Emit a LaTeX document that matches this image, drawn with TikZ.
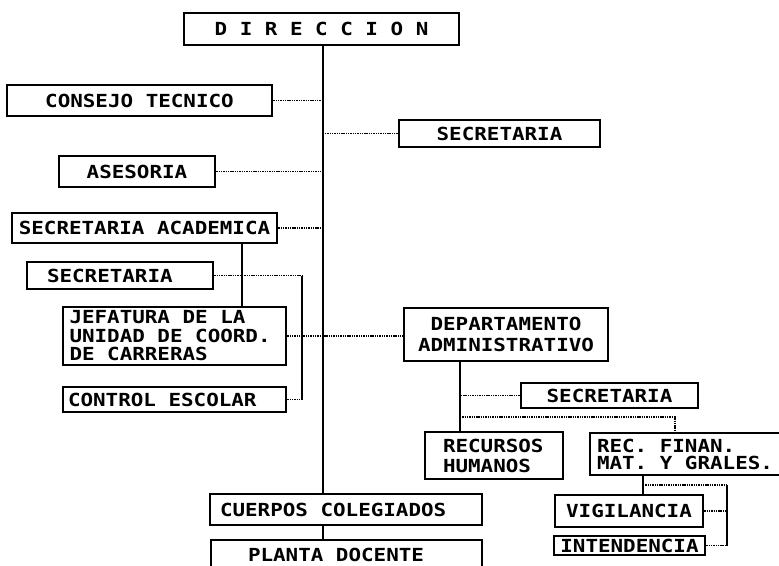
\documentclass[tikz,border=0pt]{standalone}
\usepackage{fontspec}
\newfontfamily\orgfont[FakeStretch=1.16]{DejaVu Sans Mono}
\newcommand\SP{\hskip\fontdimen2\font\relax}
\begin{document}
\begin{tikzpicture}[x=1pt,y=-1pt,
  box/.style={draw,line width=2.6pt,inner sep=0pt,align=center,
    font=\orgfont\bfseries\fontsize{18}{19}\selectfont},
  trunk/.style={line width=2.8pt},
  link/.style={line width=1.2pt,dash pattern=on 1.4pt off 0.9pt},
  rail/.style={line width=1.4pt}]
\useasboundingbox (0,0) rectangle (779,565);
\clip (0,0) rectangle (779,565);

\node[box,minimum width=275pt,minimum height=32pt] (dir) at (321.5,29) {D I R E C C I O N};
\node[box,minimum width=265pt,minimum height=31pt] (ct) at (139.5,100.5) {CONSEJO TECNICO};
\node[box,minimum width=201pt,minimum height=27pt] (sec1) at (499.5,133.5) {SECRETARIA};
\node[box,minimum width=156pt,minimum height=31pt] (ase) at (137,171.5) {ASESORIA};
\node[box,minimum width=265pt,minimum height=30pt] (sa) at (144.5,228) {SECRETARIA ACADEMICA};
\node[box,minimum height=27pt,text width=146pt,inner xsep=20pt,align=left] (sec2) at (120,275.5) {SECRETARIA};
\node[box,minimum height=58pt,text width=210pt,inner xsep=6.5pt,align=left,
  font=\orgfont\bfseries\fontsize{18}{18.5}\selectfont] (jef) at (174.5,336)
  {JEFATURA\SP DE\SP LA\\UNIDAD\SP DE\SP COORD.\\DE\SP CARRERAS};
\node[box,minimum height=25pt,text width=213pt,inner xsep=5pt,align=left] (ce) at (174.5,399.5) {CONTROL\SP ESCOLAR};
\node[box,minimum width=204pt,minimum height=53pt,
  font=\orgfont\bfseries\fontsize{18}{21}\selectfont] (da) at (506,334.5) {DEPARTAMENTO\\ADMINISTRATIVO};
\node[box,minimum width=177pt,minimum height=25pt] (sec3) at (609.5,395.5) {SECRETARIA};
\node[box,minimum height=47pt,text width=102pt,inner xsep=18pt,align=left,
  font=\orgfont\bfseries\fontsize{18}{20}\selectfont] (rh) at (494,455.5) {RECURSOS\\HUMANOS};
\node[box,minimum height=42pt,text width=196pt,inner xsep=7pt,align=left,
  font=\orgfont\bfseries\fontsize{18}{17}\selectfont] (rf) at (695,454) {REC.\SP FINAN.\\MAT.\SP Y\SP GRALES.};
\node[box,minimum width=148pt,minimum height=32pt] (vig) at (629,511) {VIGILANCIA};
\node[box,minimum width=151pt,minimum height=19pt] (int) at (629.5,545.5) {INTENDENCIA};
\node[box,minimum height=31pt,text width=252pt,inner xsep=10pt,align=left] (cc) at (346,509.5) {CUERPOS\SP COLEGIADOS};
\node[box,minimum height=30pt,text width=197pt,inner xsep=37pt,align=left] (pd) at (346.5,555) {PLANTA\SP DOCENTE};

\coordinate (ax) at (323,0);
\draw[trunk] (dir.south -| ax) -- (cc.north -| ax);
\draw[trunk] (cc.south -| ax) -- (pd.north -| ax);
\draw[link] (ct.east) -- (ct.east -| ax);
\draw[link] (sec1.west) -- (sec1.west -| ax);
\draw[link] (ase.east) -- (ase.east -| ax);
\draw[link] (sa.east) -- (sa.east -| ax);

\coordinate (sx) at (242,0);
\draw[trunk] (sa.south -| sx) -- (jef.north -| sx);
\coordinate (bx) at (302,0);
\draw[link] (sec2.east) -- (sec2.east -| bx);
\draw[rail] (sec2.east -| bx) -- (ce.east -| bx);
\draw[link] (ce.east) -- (ce.east -| bx);
\draw[link] (jef.east) -- (jef.east -| da.west);

\coordinate (dx) at (460,0);
\draw[trunk] (da.south -| dx) -- (rh.north -| dx);
\draw[link] (sec3.west) -- (sec3.west -| dx);
\coordinate (fk) at (675,417);
\draw[link] (fk -| dx) -- (fk) -- (fk |- rf.north);

\coordinate (vx) at (643,485);
\draw[trunk] (rf.south -| vx) -- (vig.north -| vx);
\coordinate (vb) at (727,485);
\draw[link] (vx) -- (vb);
\draw[rail] (vb) -- (vb |- int.east);
\draw[link] (vig.east) -- (vig.east -| vb);
\draw[link] (int.east) -- (int.east -| vb);
\end{tikzpicture}
\end{document}
